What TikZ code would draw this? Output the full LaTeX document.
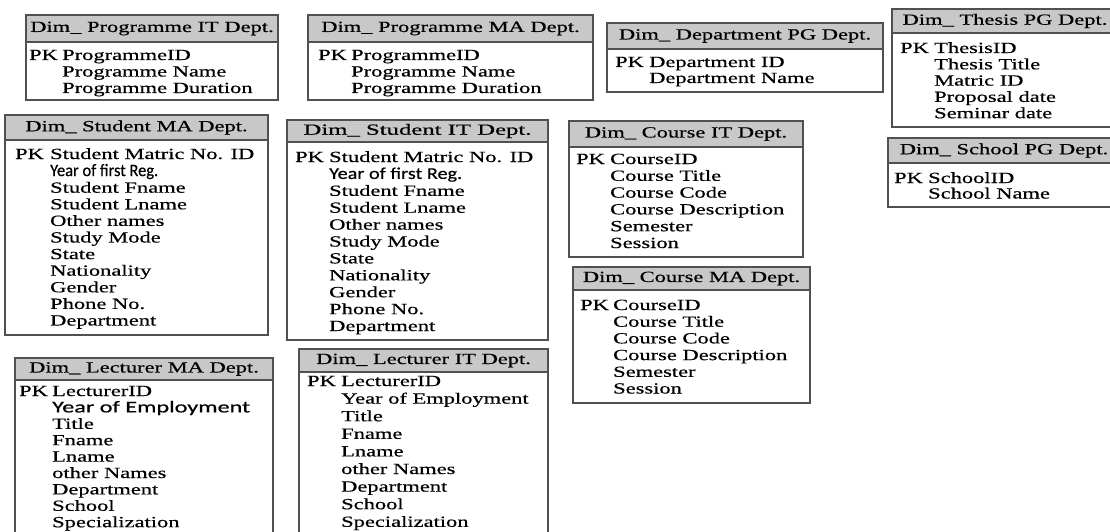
\documentclass[tikz,border=0pt]{standalone}
\usepackage{fontspec}
\usepackage{graphicx}
\setmainfont{Liberation Serif}[FakeStretch=1.45,FakeBold=0.5]
\newfontfamily\calib{Carlito}[FakeBold=0.5]
\definecolor{hdrgray}{RGB}{200,200,200}
\definecolor{edgegray}{RGB}{80,80,80}
\tikzset{
  hdr/.style={draw=edgegray, fill=hdrgray, line width=1.2pt, inner sep=0pt,
    font=\fontsize{15.5}{18}\selectfont},
  bdy/.style={draw=edgegray, fill=white, line width=1.2pt, inner sep=0pt},
  pkey/.style={anchor=base west, inner sep=0pt, font=\fontsize{15.5}{18}\selectfont},
  attrs/.style={anchor=base west, inner sep=0pt, font=\fontsize{15.5}{#1}\selectfont},
}
% name, x1, y1, x2, y header bottom, y2, title
\newcommand\erbox[7]{%
  \node[hdr, minimum width={#4-#2}, minimum height={#5-#3}] (#1h)
    at ({(#2+#4)/2},{(#3+#5)/2}) {#7};
  \node[bdy, minimum width={#4-#2}, minimum height={#6-#5}] (#1b)
    at ({(#2+#4)/2},{(#5+#6)/2}) {};
}
% name, x of PK, x of attributes, first baseline, line skip, lines
\newcommand\erlines[6]{%
  \node[pkey] (#1pk) at (#2,#4) {PK};
  \node[attrs=#5] (#1at) at (#3,#4) {\begin{tabular}[t]{@{}l@{}}#6\end{tabular}};
}
% width, font size, text
\newcommand\sansw[3]{\resizebox{#1pt}{\height}{\fontsize{#2}{18}\calib #3}}
\newcommand\hwide[2]{\scalebox{#1}[1]{#2}}
\begin{document}
\begin{tikzpicture}[x=1pt,y=-1pt]
\useasboundingbox (0,0) rectangle (1110,532);
\clip (0,0) rectangle (1110,532);

% Programme IT
\erbox{pit}{26}{15}{278}{42}{100}{Dim\_ Programme IT Dept.}
\erlines{pit}{29}{62}{60}{16.5}{ProgrammeID\\Programme Name\\Programme Duration}

% Programme MA
\erbox{pma}{308}{15}{593}{42}{100}{Dim\_ Programme MA Dept.}
\erlines{pma}{318}{351}{60}{16.5}{ProgrammeID\\Programme Name\\Programme Duration}

% Department PG
\erbox{dpg}{607}{23}{883}{49}{92}{Dim\_ Department PG Dept.}
\erlines{dpg}{615}{649}{67}{16}{Department ID\\Department Name}

% Thesis PG
\erbox{tpg}{892}{9}{1118}{33}{127}{Dim\_ Thesis PG Dept.}
\erlines{tpg}{900}{934}{53}{16.3}{ThesisID\\Thesis Title\\Matric ID\\Proposal date\\Seminar date}

% School PG
\erbox{spg}{888}{138}{1120}{163}{207}{Dim\_ School PG Dept.}
\erlines{spg}{894}{928}{183}{15.5}{SchoolID\\School Name}

% Student MA
\erbox{sma}{5}{115}{268}{140}{335}{Dim\_ Student MA Dept.}
\erlines{sma}{15}{50}{159}{16.6}{Student Matric No. ID\\\sansw{108}{17.5}{Year of first Reg.}\\Student Fname\\Student Lname\\Other names\\Study Mode\\State\\Nationality\\Gender\\Phone No.\\Department}

% Student IT
\erbox{sit}{287}{120}{548}{142}{340}{\hwide{1.1}{Dim\_ Student IT Dept.}}
\erlines{sit}{295}{329}{162}{16.9}{Student Matric No. ID\\\sansw{133}{16.5}{Year of first Reg.}\\Student Fname\\Student Lname\\Other names\\Study Mode\\State\\Nationality\\Gender\\Phone No.\\Department}

% Course IT
\erbox{cit}{569}{121}{803}{147}{257}{Dim\_ Course IT Dept.}
\erlines{cit}{576}{610}{164}{16.8}{CourseID\\Course Title\\Course Code\\Course Description\\Semester\\Session}

% Course MA
\erbox{cma}{573}{267}{810}{290}{403}{Dim\_ Course MA Dept.}
\erlines{cma}{580}{613}{310}{16.7}{CourseID\\Course Title\\Course Code\\Course Description\\Semester\\Session}

% Lecturer MA
\erbox{lma}{15}{358}{273}{380}{545}{Dim\_ Lecturer MA Dept.}
\erlines{lma}{19}{52}{396}{16.4}{LecturerID\\\sansw{198}{16.5}{Year of Employment}\\Title\\Fname\\Lname\\other Names\\Department\\School\\Specialization}

% Lecturer IT
\erbox{lit}{299}{349}{548}{372}{545}{Dim\_ Lecturer IT Dept.}
\erlines{lit}{307}{341}{386}{17.6}{LecturerID\\Year of Employment\\Title\\Fname\\Lname\\other Names\\Department\\School\\Specialization}
\end{tikzpicture}
\end{document}
